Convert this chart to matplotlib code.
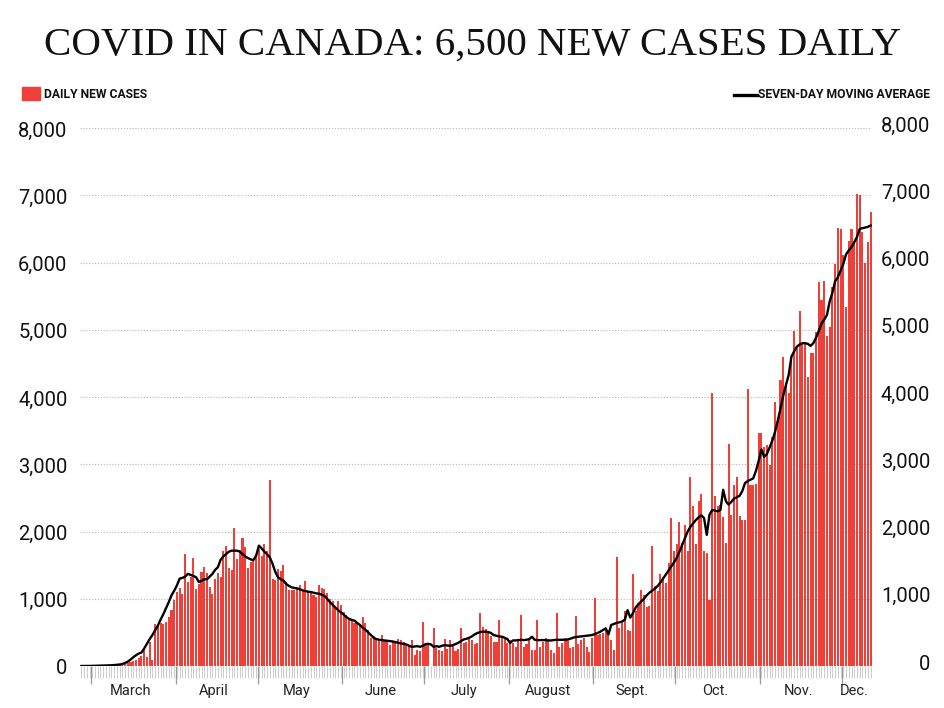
import numpy as np
import pandas as pd
import matplotlib
matplotlib.use("Agg")
import matplotlib.pyplot as plt
import matplotlib.transforms as mtransforms
from matplotlib.patches import Rectangle
from matplotlib.lines import Line2D

# ---- data ----
START_DATE = "2020-02-26"

daily_cases = [
    # Feb 26 - Mar 11
    0, 1, 2, 2, 3, 5, 4, 6, 8, 10, 12, 14, 18, 22, 26,
    # Mar 12 - Apr 6
    30, 40, 50, 65, 80, 90, 115, 150, 270, 130, 360, 90, 620, 620, 640, 630,
    650, 730, 830, 985, 1100, 1160, 1065, 1665, 1245, 1320,
    # Apr 7 - May 15
    1600, 1150, 1220, 1395, 1470, 1380, 1170, 1065, 1295, 1380, 1320, 1705,
    1790, 1460, 1430, 2045, 1590, 1725, 1910, 1775, 1460, 1540, 1575, 1615,
    1740, 1640, 1820, 1715, 2760, 1295, 1280, 1445, 1420, 1500, 1245, 1130,
    1130, 1130, 1160,
    # May 16 - Jun 23
    1210, 1125, 1260, 1110, 1095, 1060, 1025, 1210, 1160, 1145, 1085, 995,
    960, 875, 960, 910, 810, 760, 710, 685, 645, 635, 625, 725, 645, 535, 410,
    440, 390, 400, 465, 380, 365, 315, 365, 365, 400, 380, 350,
    # Jun 24 - Jul 31
    315, 290, 380, 165, 240, 230, 660, 330, 315, 0, 560, 265, 240, 230, 400,
    260, 380, 315, 230, 250, 560, 340, 350, 430, 390, 330, 340, 785, 575, 545,
    490, 450, 350, 350, 685, 410, 410, 340,
    # Aug 1 - Sep 8
    385, 335, 277, 385, 757, 287, 327, 385, 238, 238, 683, 287, 361, 411, 385,
    238, 188, 782, 287, 337, 411, 385, 262, 277, 743, 327, 385, 411, 287, 213,
    411, 1005, 460, 475, 485, 560, 495, 385, 238,
    # Sep 9 - Sep 28
    1627, 570, 645, 825, 540, 515, 1370, 825, 930, 1135, 1060, 880, 890, 1780,
    1190, 1110, 1370, 1320, 1240, 1525,
    # Sep 29 - Dec 11
    2195, 1705, 1810, 2145, 1835, 2090, 1705, 2815, 2385, 1810, 2455, 2555,
    1705, 1680, 980, 4055, 2530, 2375, 2400, 2220, 1835, 3295, 2245, 2685,
    2815, 2230, 2170, 2170, 4120, 2695, 2695, 2710, 3460, 3460, 3255, 3280,
    2995, 3410, 3925, 3670, 4260, 4600, 4160, 4055, 4570, 4985, 4755, 5280,
    4805, 4815, 4290, 4660, 4660, 4970, 5710, 5435, 5725, 4910, 5035, 5640,
    5980, 6510, 6500, 6105, 5345, 6315, 6500, 6315, 7015, 7000, 6460, 5990,
    6300, 6750,
]

moving_average = [
    0, 0, 1, 1, 2, 2, 3, 4, 5, 7, 9, 11, 14, 18, 22,
    30, 45, 65, 95, 130, 160, 185, 200, 260, 330, 400, 460, 530, 600, 690,
    770, 860, 950, 1050, 1120, 1200, 1300,
    1310, 1330, 1370, 1355, 1340, 1320, 1250, 1265, 1290, 1290, 1330, 1370,
    1430, 1470, 1580, 1630, 1665, 1700, 1715, 1715, 1715, 1700, 1665, 1630,
    1605, 1585, 1575, 1640, 1790, 1750, 1700, 1660, 1615, 1520, 1400, 1320,
    1290, 1270, 1220, 1190, 1170, 1160, 1155,
    1140, 1125, 1115, 1105, 1100, 1090, 1080, 1075, 1060, 1045, 1000, 950,
    910, 870, 830, 800, 765, 730, 700, 685, 675, 640, 610, 570, 540, 500, 460,
    420, 400, 390, 385, 380, 375, 370, 365, 355, 345, 335, 330,
    320, 300, 285, 290, 295, 285, 300, 325, 330, 320, 285, 295, 285, 300, 310,
    305, 300, 310, 325, 345, 370, 395, 405, 420, 440, 470, 490, 505, 510, 510,
    505, 490, 460, 450, 440, 435, 420, 400,
    340, 380, 380, 385, 390, 385, 390, 400, 435, 390, 385, 385, 385, 385, 380,
    380, 385, 390, 390, 390, 390, 395, 405, 420, 430, 435, 440, 445, 450, 455,
    460, 475, 490, 510, 535, 560, 470, 610, 625,
    640, 650, 660, 690, 830, 720, 790, 870, 920, 960, 1000, 1050, 1090, 1120,
    1150, 1190, 1240, 1300, 1360, 1420,
    1480, 1540, 1610, 1700, 1800, 1900, 2000, 2070, 2120, 2170, 2210, 2240,
    2200, 1950, 2250, 2320, 2310, 2300, 2320, 2620, 2450, 2400, 2440, 2490,
    2510, 2530, 2600, 2720, 2750, 2770, 2790, 2900, 3050, 3220, 3110, 3150,
    3250, 3350, 3480, 3650, 3830, 4020, 4180, 4330, 4600, 4680, 4750, 4780,
    4800, 4800, 4790, 4760, 4800, 4880, 4980, 5090, 5150, 5220, 5420, 5550,
    5720, 5780, 5880, 5980, 6120, 6180, 6230, 6300, 6380, 6500, 6510, 6520,
    6530, 6550,
]

month_labels = ["March", "April", "May", "June", "July", "August",
                "Sept.", "Oct.", "Nov.", "Dec."]
y_ticks = [0, 1000, 2000, 3000, 4000, 5000, 6000, 7000, 8000]

TITLE = "COVID IN CANADA: 6,500 NEW CASES DAILY"
BAR_COLOR = "#ee4038"
SANS = ["Roboto", "DejaVu Sans"]
SERIF = ["Liberation Serif", "DejaVu Serif"]

dates = pd.date_range(START_DATE, periods=len(daily_cases), freq="D")
x = np.arange(len(dates))
month_start = np.flatnonzero(dates.day == 1)
month_end = np.append(month_start[1:], len(dates))

fig = plt.figure(figsize=(9.44, 7.08), dpi=100)
ax = fig.add_axes([80 / 944, 42 / 708, 792 / 944, 538 / 708])

ax.bar(x, daily_cases, width=0.76, color=BAR_COLOR, linewidth=0, zorder=2)
ax.plot(x, moving_average, color="black", lw=1.7, solid_joinstyle="round",
        zorder=3)

ax.set_xlim(-0.5, len(x) - 0.5)
ax.set_ylim(0, 8000)
for s in ax.spines.values():
    s.set_visible(False)

# dotted grid
ax.set_yticks(y_ticks)
ax.yaxis.grid(True, color="#b5b5b5", lw=0.8, ls=(0, (1, 1.6)))
ax.set_axisbelow(True)
ax.set_yticklabels([f"{v:,}" for v in y_ticks], family=SANS, fontsize=14.5,
                   color="#111111")
ax.tick_params(axis="y", length=0, pad=9)
for lbl in ax.get_yticklabels():
    lbl.set_transform(lbl.get_transform() + mtransforms.ScaledTranslation(
        0, -1 / 100, fig.dpi_scale_trans))

# right-hand copy of the y labels
ax2 = ax.twinx()
ax2.set_ylim(ax.get_ylim())
ax2.set_yticks(y_ticks)
ax2.set_yticklabels([f"{v:,}" for v in y_ticks], family=SANS, fontsize=14.5,
                    color="#111111")
ax2.tick_params(axis="y", length=0, pad=42)
for s in ax2.spines.values():
    s.set_visible(False)
for lbl in ax2.get_yticklabels():
    lbl.set_horizontalalignment("right")
    lbl.set_transform(lbl.get_transform() + mtransforms.ScaledTranslation(
        0, 4 / 100, fig.dpi_scale_trans))

# daily ticks and month boundary ticks
ax.set_xticks(month_start - 0.5)
ax.set_xticklabels([])
ax.set_xticks(x, minor=True)
ax.tick_params(axis="x", which="major", length=13, width=0.9,
               color="#9a9a9a")
ax.tick_params(axis="x", which="minor", length=8.5, width=0.7,
               color="#cdcdcd")

xt = ax.get_xaxis_transform()
for name, s, e in zip(month_labels, month_start, month_end):
    ax.text((s + e) / 2 - 1.5, -0.046, name, transform=xt, ha="center",
            va="center", family=SANS, fontsize=10.5, color="#222222")

# title
fig.text(0.5, 1 - 45 / 708, TITLE, ha="center", va="center", family=SERIF,
         fontsize=29.5, color="#111111")

# legend
fig.patches.append(Rectangle((22 / 944, 1 - 100 / 708), 18 / 944, 13 / 708,
                             transform=fig.transFigure, color=BAR_COLOR))
fig.text(44 / 944, 1 - 94 / 708, "DAILY NEW CASES", ha="left", va="center",
         family=SANS, fontsize=8.7, weight="bold", color="#111111")
fig.lines.append(Line2D([734 / 944, 757 / 944], [1 - 95 / 708, 1 - 95 / 708],
                        transform=fig.transFigure, color="black", lw=2.4))
fig.text(930 / 944, 1 - 95 / 708, "SEVEN-DAY MOVING AVERAGE", ha="right",
         va="center", family=SANS, fontsize=8.7, weight="bold",
         color="#111111")

fig.savefig("out.png", dpi=100)
